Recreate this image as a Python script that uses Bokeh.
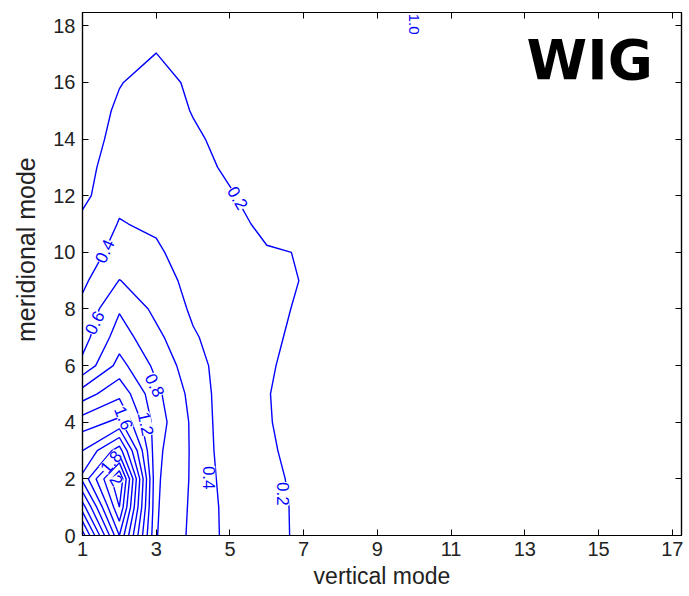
import numpy as np
from bokeh.plotting import figure
from bokeh.core.properties import value
from bokeh.models import (Range1d, LinearAxis, FixedTicker, CustomJSTickFormatter,
                          LabelSet, Label, ColumnDataSource)
from bokeh.embed import file_html
from bokeh.resources import INLINE

# ---- data: value field on the (vertical mode, meridional mode) grid ----
vertical_modes = list(range(1, 18))          # x: 1..17
meridional_modes = list(range(0, 19))        # y: 0..18

# one list per vertical mode, values for meridional modes 0..18
vm1 = [0.90, 1.50, 2.05, 1.80, 1.50, 1.10, 0.65, 0.52, 0.45, 0.36, 0.30, 0.25, 0.15, 0.12, 0.10, 0.08, 0.06, 0.05, 0.04]
vm2 = [2.40, 2.80, 3.00, 2.30, 1.65, 1.35, 1.07, 0.90, 0.78, 0.605, 0.47, 0.41, 0.36, 0.325, 0.267, 0.234, 0.19, 0.14, 0.10]
vm3 = [0.81, 0.82, 0.83, 0.85, 0.90, 0.85, 0.75, 0.65, 0.55, 0.50, 0.43, 0.37, 0.33, 0.30, 0.27, 0.30, 0.28, 0.202, 0.15]
vm4 = [0.55, 0.56, 0.57, 0.57, 0.56, 0.53, 0.48, 0.42, 0.37, 0.33, 0.30, 0.28, 0.26, 0.24, 0.23, 0.19, 0.16, 0.12, 0.08]
vm5 = [0.34, 0.33, 0.30, 0.27, 0.26, 0.27, 0.29, 0.30, 0.29, 0.28, 0.26, 0.24, 0.21, 0.18, 0.14, 0.10, 0.07, 0.05, 0.03]
vm6 = [0.26, 0.25, 0.24, 0.23, 0.215, 0.21, 0.23, 0.24, 0.25, 0.25, 0.21, 0.17, 0.14, 0.11, 0.08, 0.06, 0.04, 0.03, 0.02]
vm7 = [0.163, 0.167, 0.16, 0.13, 0.115, 0.11, 0.11, 0.151, 0.173, 0.1925, 0.195, 0.15, 0.10, 0.07, 0.05, 0.04, 0.03, 0.02, 0.01]
vm8 = [0.10, 0.10, 0.09, 0.08, 0.07, 0.07, 0.07, 0.09, 0.10, 0.11, 0.11, 0.09, 0.06, 0.04, 0.03, 0.02, 0.02, 0.01, 0.01]
vm9 = [0.06, 0.06, 0.05, 0.05, 0.04, 0.04, 0.04, 0.05, 0.06, 0.06, 0.06, 0.05, 0.04, 0.03, 0.02, 0.02, 0.01, 0.01, 0.01]
vm10 = [0.04, 0.04, 0.03, 0.03, 0.03, 0.03, 0.03, 0.03, 0.04, 0.04, 0.04, 0.03, 0.03, 0.02, 0.02, 0.01, 0.01, 0.01, 0.05]
vm11 = [0.03, 0.03, 0.03, 0.02, 0.02, 0.02, 0.02, 0.02, 0.03, 0.03, 0.03, 0.02, 0.02, 0.02, 0.01, 0.01, 0.01, 0.01, 0.01]
vm12 = [0.02, 0.02, 0.02, 0.02, 0.02, 0.02, 0.02, 0.02, 0.02, 0.02, 0.02, 0.02, 0.01, 0.01, 0.01, 0.01, 0.01, 0.01, 0.01]
vm13 = [0.02, 0.02, 0.02, 0.01, 0.01, 0.01, 0.01, 0.01, 0.02, 0.02, 0.02, 0.01, 0.01, 0.01, 0.01, 0.01, 0.01, 0.01, 0.01]
vm14 = [0.01, 0.01, 0.01, 0.01, 0.01, 0.01, 0.01, 0.01, 0.01, 0.01, 0.01, 0.01, 0.01, 0.01, 0.01, 0.01, 0.01, 0.01, 0.01]
vm15 = [0.01, 0.01, 0.01, 0.01, 0.01, 0.01, 0.01, 0.01, 0.01, 0.01, 0.01, 0.01, 0.01, 0.01, 0.01, 0.01, 0.01, 0.00, 0.00]
vm16 = [0.01, 0.01, 0.01, 0.01, 0.01, 0.01, 0.01, 0.01, 0.01, 0.01, 0.01, 0.01, 0.00, 0.00, 0.00, 0.00, 0.00, 0.00, 0.00]
vm17 = [0.01, 0.01, 0.01, 0.00, 0.00, 0.00, 0.00, 0.00, 0.00, 0.00, 0.00, 0.00, 0.00, 0.00, 0.00, 0.00, 0.00, 0.00, 0.00]

contour_levels = [0.2, 0.4, 0.6, 0.8, 1.0, 1.2, 1.4, 1.6, 1.8, 2.0, 2.2, 2.4, 2.6, 2.8, 3.0]

x_ticks = [1, 3, 5, 7, 9, 11, 13, 15, 17]
y_ticks = [0, 2, 4, 6, 8, 10, 12, 14, 16, 18]

# inline contour labels (text, x, y, rotation in degrees)
label_text = ["0.2", "0.2", "0.4", "0.4", "0.6", "0.8", "1.2", "1.6", "1.8", "2"]
label_x = [5.21, 6.44, 1.60, 4.44, 1.33, 2.96, 2.72, 2.12, 1.77, 1.92]
label_y = [11.92, 1.47, 10.04, 2.04, 7.51, 5.31, 3.94, 4.15, 2.60, 1.95]
label_angle = [-60, -90, 65, -90, 64, -64, -78, -68, 50, -60]

columns = [vm1, vm2, vm3, vm4, vm5, vm6, vm7, vm8, vm9, vm10, vm11, vm12,
           vm13, vm14, vm15, vm16, vm17]
z = np.array(columns, dtype=float).T     # shape (len(meridional), len(vertical))

p = figure(frame_width=599, frame_height=523,
           x_range=Range1d(1, 17.25), y_range=Range1d(0, 18.47),
           output_backend="svg", toolbar_location=None,
           min_border_left=82, min_border_right=4, min_border_top=12, min_border_bottom=50,
           background_fill_color="white", border_fill_color="white")

p.contour(vertical_modes, meridional_modes, z, contour_levels,
          line_color="#0000ff", line_width=1.4)

p.grid.visible = False
p.outline_line_color = "black"
p.outline_line_width = 1.2

tick_font = "Liberation Sans"
for ax, ticks in ((p.xaxis[0], x_ticks), (p.yaxis[0], y_ticks)):
    ax.ticker = FixedTicker(ticks=ticks)
    ax.major_tick_in = 6
    ax.major_tick_out = 0
    ax.minor_tick_in = 0
    ax.minor_tick_out = 0
    ax.axis_line_color = "black"
    ax.axis_line_width = 1.2
    ax.major_tick_line_color = "black"
    ax.major_label_text_font = tick_font
    ax.major_label_text_font_size = "20px"
    ax.major_label_text_color = "#222222"
    ax.axis_label_text_font = tick_font
    ax.axis_label_text_font_style = "normal"
    ax.axis_label_text_color = "#222222"

p.xaxis.axis_label = "vertical mode"
p.xaxis.axis_label_text_font_size = "23px"
p.xaxis.major_label_standoff = 6
p.xaxis.axis_label_standoff = 4

# leading no-break spaces lift the centred title slightly, as in the original
p.yaxis.axis_label = "\u00a0" * 7 + "meridional mode"
p.yaxis.axis_label_text_font_size = "25px"
p.yaxis.major_label_standoff = 7
p.yaxis.axis_label_standoff = 10

for loc, ticks in (("above", x_ticks), ("right", y_ticks)):
    ax = LinearAxis(ticker=FixedTicker(ticks=ticks),
                    formatter=CustomJSTickFormatter(code="return ''"),
                    major_tick_in=6, major_tick_out=0, minor_tick_in=0, minor_tick_out=0,
                    major_label_standoff=0, major_label_text_font_size="0px",
                    axis_line_color="black", axis_line_width=1.2)
    p.add_layout(ax, loc)

lab_src = ColumnDataSource(dict(x=label_x, y=label_y, text=label_text, angle=label_angle))
p.add_layout(LabelSet(x="x", y="y", text="text", angle="angle", angle_units="deg",
                      source=lab_src, text_align="center", text_baseline="middle",
                      text_color="#0000ff", text_font=value(tick_font), text_font_size=value("17px"),
                      background_fill_color="white"))

p.add_layout(Label(x=9.98, y=18.06, text="1.0", angle=-90, angle_units="deg",
                   text_align="center", text_baseline="middle", text_color="#0000ff",
                   text_font=tick_font, text_font_size="15px"))

p.add_layout(Label(x=14.76, y=16.79, text="WIG", text_align="center",
                   text_baseline="middle", text_color="black",
                   text_font="DejaVu Sans", text_font_style="bold", text_font_size="55px"))

open("out.html", "w").write(file_html(p, INLINE))
